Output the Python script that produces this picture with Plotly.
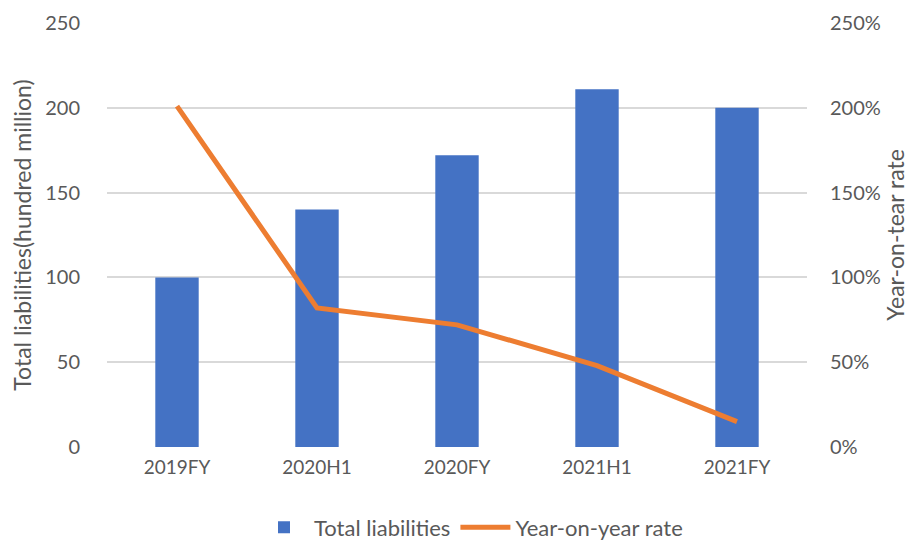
import plotly.graph_objects as go

categories = ["2019FY", "2020H1", "2020FY", "2021H1", "2021FY"]
total_liabilities = [100, 140, 172, 211, 200]
yoy_rate = [2.01, 0.82, 0.72, 0.48, 0.15]
left_ticks = [0, 50, 100, 150, 200, 250]
right_ticks = [0, 0.5, 1.0, 1.5, 2.0, 2.5]

font_family = "Lato, Open Sans, sans-serif"
gray = "#595959"

fig = go.Figure()
fig.add_trace(go.Bar(
    x=categories, y=total_liabilities, name="Total liabilities",
    marker=dict(color="#4472C4", line=dict(width=0)), width=0.31, yaxis="y",
))
fig.add_trace(go.Scatter(
    x=categories, y=yoy_rate, name="Year-on-year rate", mode="lines",
    line=dict(color="#ED7D31", width=5), yaxis="y2",
))

fig.update_layout(
    width=921, height=541,
    margin=dict(l=99, r=122, t=15, b=102, autoexpand=False),
    plot_bgcolor="white", paper_bgcolor="white",
    font=dict(family=font_family, color=gray, size=20),
    showlegend=True,
    legend=dict(orientation="h", x=0.52, xanchor="center", y=-0.14, yanchor="top",
                font=dict(size=22, color=gray), itemwidth=50, traceorder="normal"),
    xaxis=dict(showgrid=False, showline=False, ticks="outside", ticklen=3,
               tickcolor="rgba(0,0,0,0)", tickfont=dict(size=19, color=gray),
               automargin=False),
    yaxis=dict(range=[0, 250], tickvals=left_ticks, showgrid=True, gridcolor="#d9d9d9",
               gridwidth=1.5, zeroline=False, showline=False, ticks="outside",
               ticklen=22, tickcolor="rgba(0,0,0,0)", automargin=False,
               title=dict(text="Total liabilities(hundred million)", font=dict(size=23, color=gray), standoff=8),
               tickfont=dict(size=20, color=gray)),
    yaxis2=dict(range=[0, 2.5], tickvals=right_ticks, tickformat=".0%", overlaying="y",
                side="right", showgrid=False, zeroline=False, showline=False,
                ticks="outside", ticklen=18, tickcolor="rgba(0,0,0,0)", automargin=False,
                title=dict(text="Year-on-tear rate", font=dict(size=23, color=gray), standoff=6),
                tickfont=dict(size=20, color=gray)),
    bargap=0.69,
)

fig.write_html("out.html")
